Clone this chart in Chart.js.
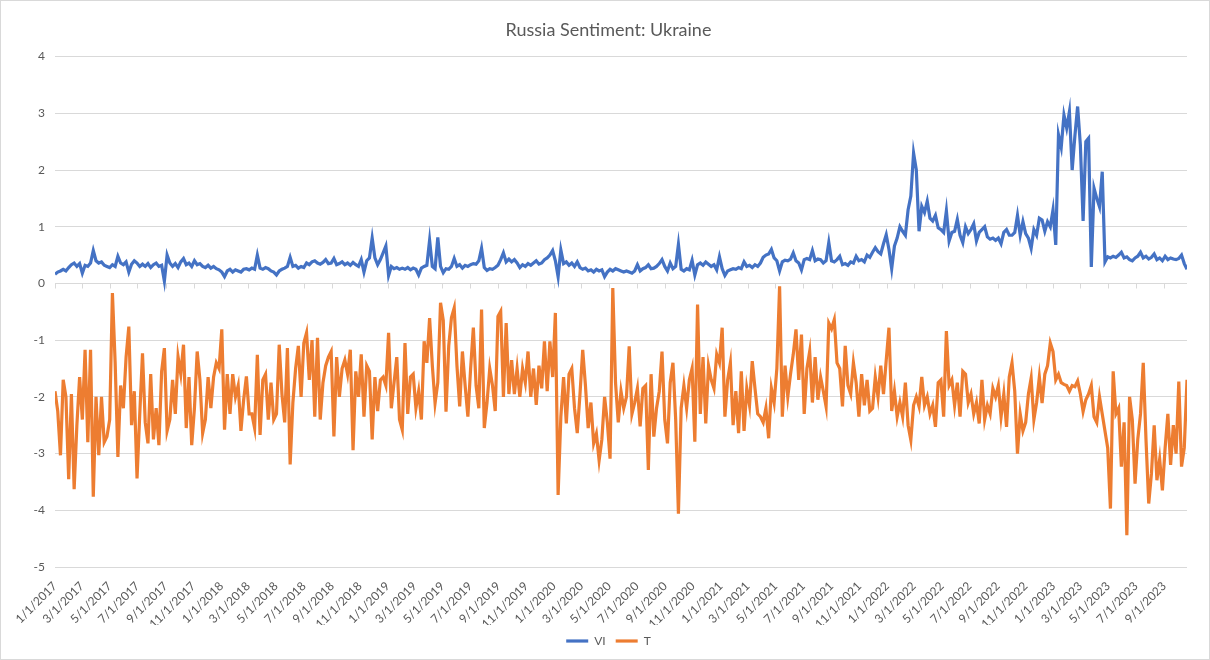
<!DOCTYPE html>
<html>
<head>
<meta charset="utf-8">
<title>Russia Sentiment: Ukraine</title>
<script src="https://cdn.jsdelivr.net/npm/chart.js@4.4.1/dist/chart.umd.min.js"></script>
<style>
  html, body { margin: 0; padding: 0; background: #fff; }
  #wrap { position: relative; width: 1210px; height: 660px; }
</style>
</head>
<body>
<div id="wrap"><canvas id="sentimentChart" width="1210" height="660"></canvas></div>
<script>
// series are sampled every 6 days starting 1/1/2017
const startDate = "1/1/2017";
const stepDays = 6;

// x axis labels, every other month
const dateLabels = [
  "1/1/2017", "3/1/2017", "5/1/2017", "7/1/2017", "9/1/2017", "11/1/2017",
  "1/1/2018", "3/1/2018", "5/1/2018", "7/1/2018", "9/1/2018", "11/1/2018",
  "1/1/2019", "3/1/2019", "5/1/2019", "7/1/2019", "9/1/2019", "11/1/2019",
  "1/1/2020", "3/1/2020", "5/1/2020", "7/1/2020", "9/1/2020", "11/1/2020",
  "1/1/2021", "3/1/2021", "5/1/2021", "7/1/2021", "9/1/2021", "11/1/2021",
  "1/1/2022", "3/1/2022", "5/1/2022", "7/1/2022", "9/1/2022", "11/1/2022",
  "1/1/2023", "3/1/2023", "5/1/2023", "7/1/2023", "9/1/2023",
];

// "VI" series (blue)
const vi = [
  0.16, 0.2, 0.22, 0.25, 0.22, 0.28, 0.33, 0.36, 0.3, 0.35,
  0.18, 0.32, 0.3, 0.36, 0.58, 0.4, 0.36, 0.38, 0.32, 0.3,
  0.28, 0.33, 0.3, 0.48, 0.36, 0.33, 0.38, 0.2, 0.34, 0.4,
  0.36, 0.3, 0.34, 0.3, 0.35, 0.28, 0.33, 0.36, 0.3, 0.32,
  0.04, 0.5, 0.36, 0.3, 0.35, 0.28, 0.38, 0.44, 0.33, 0.36,
  0.3, 0.4, 0.33, 0.35, 0.3, 0.28, 0.32, 0.27, 0.3, 0.26,
  0.24, 0.2, 0.12, 0.22, 0.25, 0.2, 0.24, 0.22, 0.2, 0.25,
  0.26, 0.24, 0.27, 0.25, 0.5, 0.27, 0.25, 0.28, 0.26, 0.22,
  0.2, 0.15, 0.22, 0.25, 0.27, 0.3, 0.46, 0.3, 0.32, 0.27,
  0.3, 0.28, 0.36, 0.33, 0.38, 0.4, 0.36, 0.34, 0.37, 0.42,
  0.35, 0.36, 0.44, 0.33, 0.35, 0.38, 0.33, 0.36, 0.32, 0.37,
  0.33, 0.3, 0.42, 0.2, 0.4, 0.45, 0.8, 0.45, 0.33, 0.42,
  0.54, 0.66, 0.14, 0.3, 0.26, 0.28, 0.25, 0.27, 0.25, 0.28,
  0.24, 0.27, 0.25, 0.15, 0.27, 0.3, 0.32, 0.76, 0.3, 0.26,
  0.81, 0.3, 0.19, 0.26, 0.25, 0.3, 0.44, 0.3, 0.33, 0.27,
  0.32, 0.3, 0.33, 0.35, 0.34, 0.4, 0.62, 0.28, 0.23, 0.26,
  0.25, 0.28, 0.32, 0.42, 0.54, 0.38, 0.43, 0.38, 0.42, 0.36,
  0.28, 0.33, 0.3, 0.35, 0.32, 0.36, 0.4, 0.34, 0.36, 0.42,
  0.45, 0.5, 0.58, 0.4, 0.12, 0.59, 0.35, 0.38, 0.32, 0.36,
  0.3, 0.38, 0.28, 0.25, 0.27, 0.22, 0.24, 0.2, 0.25, 0.22,
  0.24, 0.12, 0.2, 0.25, 0.22, 0.26, 0.24, 0.22, 0.2, 0.22,
  0.2, 0.18, 0.22, 0.33, 0.22, 0.26, 0.28, 0.33, 0.26, 0.27,
  0.3, 0.35, 0.42, 0.3, 0.22, 0.36, 0.26, 0.3, 0.69, 0.25,
  0.22, 0.26, 0.24, 0.41, 0.15, 0.33, 0.36, 0.32, 0.38, 0.34,
  0.3, 0.33, 0.24, 0.47, 0.26, 0.14, 0.22, 0.24, 0.26, 0.25,
  0.28, 0.26, 0.38, 0.3, 0.32, 0.28, 0.33, 0.3, 0.36, 0.46,
  0.5, 0.52, 0.6, 0.45, 0.4, 0.22, 0.38, 0.41, 0.4, 0.43,
  0.54, 0.4, 0.36, 0.24, 0.42, 0.44, 0.42, 0.58, 0.4, 0.43,
  0.42, 0.36, 0.4, 0.72, 0.4, 0.38, 0.42, 0.48, 0.33, 0.35,
  0.32, 0.38, 0.36, 0.48, 0.4, 0.42, 0.38, 0.5, 0.46, 0.55,
  0.63, 0.56, 0.52, 0.7, 0.86, 0.6, 0.26, 0.66, 0.8, 1.0,
  0.92, 0.85, 1.3, 1.54, 2.3, 2.0, 0.92, 1.36, 1.25, 1.45,
  1.15, 1.1, 1.2, 0.98, 0.95, 0.9, 1.28, 0.75, 0.9, 0.92,
  1.13, 0.85, 0.72, 1.0, 0.88, 0.95, 1.05, 0.75, 0.9, 0.95,
  1.0, 0.82, 0.78, 0.8, 0.76, 0.8, 0.7, 0.9, 0.95, 0.85,
  0.85, 0.9, 1.2, 0.85, 1.09, 0.88, 0.8, 0.62, 0.95, 0.85,
  1.15, 1.12, 0.92, 1.09, 1.0, 1.3, 0.68, 2.62, 2.4, 2.97,
  2.74, 3.03, 2.0, 2.6, 3.12, 2.44, 1.1, 2.5, 2.56, 0.29,
  1.68, 1.5, 1.35, 1.97, 0.38, 0.47, 0.45, 0.48, 0.46, 0.5,
  0.55, 0.45, 0.47, 0.42, 0.4, 0.45, 0.48, 0.55, 0.45, 0.48,
  0.43, 0.46, 0.52, 0.42, 0.45, 0.4, 0.48, 0.42, 0.45, 0.43,
  0.42, 0.44, 0.5, 0.35, 0.25,
];

// "T" series (orange)
const t = [
  -1.9, -2.25, -3.03, -1.7, -2.0, -3.45, -1.95, -3.63, -2.5, -1.65,
  -2.4, -1.17, -2.8, -1.17, -3.76, -2.0, -3.03, -2.0, -2.8, -2.7,
  -2.4, -0.17, -1.4, -3.06, -1.8, -2.2, -1.3, -0.76, -2.5, -1.9,
  -3.44, -2.3, -1.23, -2.45, -2.82, -1.6, -2.75, -2.2, -2.85, -1.55,
  -1.14, -2.6, -2.4, -1.7, -2.3, -1.29, -1.6, -1.08, -2.55, -1.65,
  -2.85, -2.2, -1.2, -1.7, -2.64, -2.4, -1.65, -2.2, -1.65, -1.4,
  -1.5, -0.81, -2.58, -1.6, -2.3, -1.6, -2.0, -1.8, -2.6, -2.05,
  -1.64, -2.3, -2.3, -2.55, -1.26, -2.67, -1.7, -1.6, -2.4, -1.75,
  -2.4, -2.3, -1.08, -1.95, -2.45, -1.14, -3.19, -2.1, -1.5, -1.1,
  -2.0, -1.05, -0.87, -1.7, -1.0, -2.35, -0.96, -2.4, -1.75, -1.45,
  -1.3, -1.2, -2.7, -1.3, -2.0, -1.5, -1.35, -1.6, -1.17, -2.94,
  -1.55, -2.0, -1.25, -2.35, -1.45, -1.55, -2.75, -1.65, -2.25, -1.7,
  -1.65, -1.8, -0.87, -2.2, -1.75, -1.3, -2.4, -2.58, -1.05, -2.3,
  -1.65, -1.6, -2.2, -1.9, -2.4, -1.02, -1.4, -0.61, -1.45, -2.11,
  -1.75, -0.34, -0.65, -2.26, -1.1, -0.6, -0.43, -1.45, -2.17, -1.2,
  -1.8, -2.35, -1.5, -0.78, -1.8, -2.2, -0.46, -2.55, -2.1, -1.5,
  -1.8, -2.25, -0.58, -0.49, -2.0, -0.7, -1.95, -1.35, -1.95, -1.5,
  -2.0, -1.5, -1.75, -1.2, -2.0, -1.5, -2.14, -1.45, -1.85, -1.02,
  -1.9, -1.02, -1.65, -0.52, -3.73, -2.35, -1.65, -2.47, -1.6, -1.5,
  -2.2, -2.64, -1.95, -1.17, -1.8, -2.55, -2.1, -2.82, -2.65, -3.12,
  -2.75, -2.0, -2.45, -3.09, -0.08, -1.75, -2.45, -1.9, -2.2, -2.0,
  -1.11, -2.3, -2.1, -1.85, -2.52, -1.85, -1.8, -3.29, -1.6, -2.7,
  -2.2, -1.9, -1.2, -2.4, -2.82, -1.75, -1.4, -2.4, -4.06, -2.2,
  -1.8, -2.2, -1.7, -1.5, -2.79, -0.37, -2.3, -1.3, -2.47, -1.45,
  -1.7, -1.85, -1.25, -1.4, -0.78, -2.35, -1.7, -1.4, -2.5, -1.9,
  -2.64, -1.55, -2.6, -1.85, -2.15, -1.37, -1.85, -2.3, -2.35, -2.45,
  -2.2, -2.73, -1.85, -2.1, -1.5, -0.05, -2.35, -1.45, -2.0, -1.6,
  -1.25, -0.81, -1.7, -0.9, -2.3, -1.5, -1.2, -2.1, -1.3, -2.05,
  -1.65, -1.9, -2.17, -0.7, -0.8, -0.64, -1.4, -1.5, -2.17, -1.1,
  -1.8, -1.95, -1.4, -1.75, -2.35, -1.6, -2.15, -1.7, -2.25, -2.2,
  -1.65, -2.0, -1.45, -1.95, -1.35, -0.78, -2.25, -1.9, -2.35, -2.1,
  -2.35, -1.75, -2.5, -2.76, -2.15, -2.0, -2.17, -1.65, -2.15, -2.0,
  -2.3, -2.15, -2.53, -1.75, -1.7, -2.35, -0.84, -1.8, -1.7, -2.15,
  -1.75, -2.35, -1.55, -1.6, -2.1, -1.95, -2.3, -2.1, -2.47, -1.7,
  -2.4, -2.15, -2.3, -1.85, -2.0, -1.8, -2.35, -1.95, -2.53, -1.65,
  -1.4, -1.9, -3.0, -2.3, -2.6, -2.45, -1.95, -1.67, -2.4, -2.1,
  -1.65, -2.11, -1.6, -1.45, -1.05, -1.2, -1.7, -1.6, -1.75, -1.78,
  -1.8, -1.9, -1.8, -1.82, -1.72, -1.95, -2.26, -2.05, -1.95, -1.8,
  -2.35, -2.45, -2.0, -2.3, -2.6, -2.9, -3.97, -1.55, -2.3, -2.2,
  -3.23, -2.45, -4.44, -2.0, -2.4, -3.53, -2.75, -2.3, -1.4, -2.75,
  -3.88, -3.35, -2.5, -3.47, -3.1, -3.65, -2.9, -2.3, -3.2, -2.5,
  -3.0, -1.73, -3.23, -2.9, -1.7,
];

// days since the start date for a m/d/yyyy string
function dayOf(s) {
  const [m, d, y] = s.split("/").map(Number);
  const [m0, d0, y0] = startDate.split("/").map(Number);
  return (Date.UTC(y, m - 1, d) - Date.UTC(y0, m0 - 1, d0)) / 86400000;
}

const tickDays = dateLabels.map(dayOf);
const toPoints = (arr) => arr.map((v, i) => ({ x: i * stepDays, y: v }));

const gray = "#595959";
const gridGray = "#d9d9d9";
const font = { family: "Lato, 'Liberation Sans', sans-serif", size: 12 };

// Excel style tick marks on the 0 line + chart border
const excelBits = {
  id: "excelBits",
  beforeDatasetsDraw(chart) {
    const { ctx, scales } = chart;
    const y0 = Math.round(scales.y.getPixelForValue(0)) + 0.5;
    ctx.save();
    ctx.strokeStyle = gridGray;
    ctx.lineWidth = 1;
    scales.x.ticks.forEach((tk) => {
      const px = Math.round(scales.x.getPixelForValue(tk.value)) + 0.5;
      ctx.beginPath();
      ctx.moveTo(px, y0);
      ctx.lineTo(px, y0 + 5);
      ctx.stroke();
    });
    ctx.restore();
  },
  afterDraw(chart) {
    const { ctx, width, height } = chart;
    ctx.save();
    ctx.strokeStyle = gridGray;
    ctx.lineWidth = 1;
    ctx.strokeRect(0.5, 0.5, width - 1, height - 1);
    ctx.restore();
  },
};

const ctx = document.getElementById("sentimentChart").getContext("2d");

const config = {
  type: "line",
  data: {
    datasets: [
      {
        label: "VI",
        data: toPoints(vi),
        borderColor: "#4472c4",
        backgroundColor: "#4472c4",
        borderWidth: 3.2,
        pointRadius: 0,
        tension: 0,
      },
      {
        label: "T",
        data: toPoints(t),
        borderColor: "#ed7d31",
        backgroundColor: "#ed7d31",
        borderWidth: 3.2,
        pointRadius: 0,
        tension: 0,
      },
    ],
  },
  options: {
    responsive: false,
    animation: false,
    layout: { padding: { left: 30, right: 23, top: 0, bottom: 3 } },
    plugins: {
      title: {
        display: true,
        text: "Russia Sentiment: Ukraine",
        color: gray,
        font: { family: font.family, size: 18, weight: "normal" },
        padding: { top: 19, bottom: 16 },
      },
      legend: {
        position: "bottom",
        labels: {
          color: gray,
          font: font,
          usePointStyle: true,
          pointStyle: "line",
          pointStyleWidth: 22,
          padding: 10,
        },
      },
      tooltip: { enabled: false },
    },
    scales: {
      x: {
        type: "linear",
        min: 0,
        max: (vi.length - 1) * stepDays,
        afterBuildTicks: (scale) => {
          scale.ticks = tickDays.map((v) => ({ value: v }));
        },
        afterFit: (scale) => {
          scale.height = 58;
        },
        ticks: {
          autoSkip: false,
          maxRotation: 45,
          minRotation: 45,
          color: gray,
          font: font,
          padding: 4,
          callback: (v, i) => dateLabels[i],
        },
        grid: { display: false },
        border: { display: false },
      },
      y: {
        min: -5,
        max: 4,
        afterFit: (scale) => {
          scale.width = 25;
        },
        ticks: {
          stepSize: 1,
          color: gray,
          font: font,
          padding: 10,
        },
        grid: { color: gridGray, drawTicks: false },
        border: { display: false },
      },
    },
  },
  plugins: [excelBits],
};

const sentimentChart = new Chart(ctx, config);
</script>
</body>
</html>
